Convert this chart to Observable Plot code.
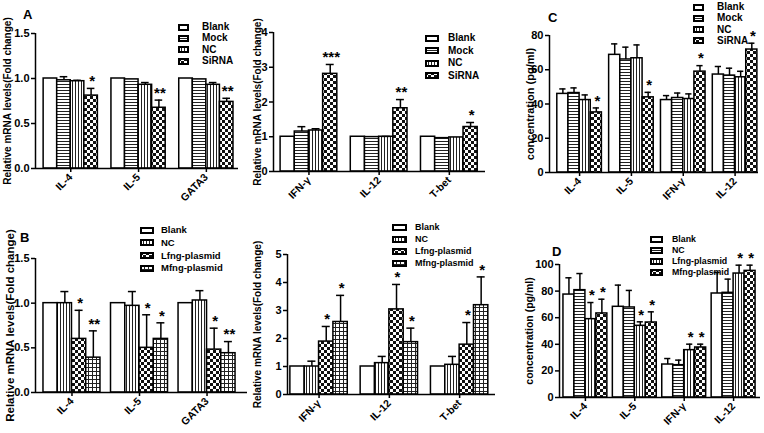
<!DOCTYPE html>
<html><head><meta charset="utf-8">
<script src="https://cdn.jsdelivr.net/npm/d3@7"></script>
<script src="https://cdn.jsdelivr.net/npm/@observablehq/plot@0.6"></script>
<style>
body{margin:0;background:#fff}
#root{position:relative;width:764px;height:433px;overflow:hidden;background:#fff;font-family:"Liberation Sans",Arial,sans-serif;font-weight:bold;color:#000}
.letter{position:absolute;font-size:13px;line-height:1;font-weight:bold}
.lrow{position:absolute;display:flex;align-items:center;white-space:nowrap;height:12px;font-weight:bold;line-height:1}
.lrow svg{flex:none}
</style></head>
<body><div id="root">
<svg width="0" height="0" style="position:absolute"><defs>
 <pattern id="pH" width="4" height="3" patternUnits="userSpaceOnUse"><rect width="4" height="3" fill="#fff"/><rect y="0" width="4" height="1" fill="#222"/></pattern>
 <pattern id="pV" width="3" height="4" patternUnits="userSpaceOnUse"><rect width="3" height="4" fill="#fff"/><rect x="0" width="1" height="4" fill="#222"/></pattern>
 <pattern id="pC" width="6" height="6" patternUnits="userSpaceOnUse"><rect width="6" height="6" fill="#fff"/><rect width="3" height="3" fill="#111"/><rect x="3" y="3" width="3" height="3" fill="#111"/></pattern>
 <pattern id="pG" width="4" height="4" patternUnits="userSpaceOnUse"><rect width="4" height="4" fill="#fff"/><rect width="4" height="1" fill="#222"/><rect width="1" height="4" fill="#222"/></pattern>
</defs></svg>
</div>
<script>
// ---------- data ----------
const seriesA = ["Blank", "Mock", "NC", "SiRNA"];
const seriesB = ["Blank", "NC", "Lfng-plasmid", "Mfng-plasmid"];

// Panel A (left): Th2 genes
const catsA1 = ["IL-4", "IL-5", "GATA3"];
const meanA1 = [[1.0, 0.98, 0.97, 0.81], [1.0, 0.99, 0.93, 0.675], [1.0, 0.99, 0.93, 0.74]];
const hiA1   = [[1.0, 1.02, 0.98, 0.89], [1.0, 0.99, 0.955, 0.76], [1.0, 0.99, 0.955, 0.78]];
const sigA1  = [["", "", "", "*"], ["", "", "", "**"], ["", "", "", "**"]];

// Panel A (right): Th1 genes
const catsA2 = ["IFN-γ", "IL-12", "T-bet"];
const meanA2 = [[1.0, 1.15, 1.18, 2.81], [1.0, 0.99, 1.0, 1.82], [1.0, 0.96, 0.98, 1.28]];
const hiA2   = [[1.0, 1.29, 1.23, 3.08], [1.0, 0.99, 1.01, 2.07], [1.0, 0.96, 0.98, 1.41]];
const sigA2  = [["", "", "", "***"], ["", "", "", "**"], ["", "", "", "*"]];

// Panel C: cytokines (pg/ml)
const catsC = ["IL-4", "IL-5", "IFN-γ", "IL-12"];
const meanC = [[45.9, 46.4, 42.3, 35.1], [68.7, 66.0, 66.7, 43.9], [42.3, 43.5, 42.9, 58.9], [57.2, 56.6, 55.6, 71.8]];
const hiC   = [[48.8, 49.4, 45.3, 37.7], [75.1, 73.2, 74.5, 46.8], [44.9, 46.4, 45.9, 62.4], [61.9, 60.9, 59.1, 75.5]];
const sigC  = [["", "", "", "*"], ["", "", "", "*"], ["", "", "", "*"], ["", "", "", "*"]];

// Panel B (left)
const catsB1 = ["IL-4", "IL-5", "GATA3"];
const meanB1 = [[1.0, 1.0, 0.60, 0.39], [1.0, 0.97, 0.50, 0.60], [1.0, 1.03, 0.48, 0.44]];
const hiB1   = [[1.0, 1.13, 0.92, 0.69], [1.0, 1.13, 0.87, 0.78], [1.0, 1.14, 0.72, 0.57]];
const sigB1  = [["", "", "*", "**"], ["", "", "*", "*"], ["", "", "*", "**"]];

// Panel B (right)
const catsB2 = ["IFN-γ", "IL-12", "T-bet"];
const meanB2 = [[1.0, 1.0, 1.89, 2.59], [1.0, 1.12, 3.04, 1.87], [1.0, 1.06, 1.78, 3.19]];
const hiB2   = [[1.0, 1.19, 2.43, 3.54], [1.0, 1.36, 3.93, 2.37], [1.0, 1.36, 2.57, 4.2]];
const sigB2  = [["", "", "*", "*"], ["", "", "*", "*"], ["", "", "*", "*"]];

// Panel D: cytokines (pg/ml)
const catsD = ["IL-4", "IL-5", "IFN-γ", "IL-12"];
const meanD = [[77.4, 80.7, 58.9, 63.2], [68.2, 67.7, 53.9, 56.4], [24.8, 24.3, 35.6, 37.6], [78.2, 78.7, 93.2, 95.2]];
const hiD   = [[90.0, 93.2, 71.4, 73.9], [84.5, 80.5, 56.9, 64.4], [29.3, 28.1, 40.1, 40.1], [94.0, 89.0, 99.5, 99.5]];
const sigD  = [["", "", "*", "*"], ["", "", "*", "*"], ["", "", "*", "*"], ["", "", "*", "*"]];

const ticks15 = [0, 0.5, 1.0, 1.5];
const ticks4 = [0, 1, 2, 3, 4];
const ticks5 = [0, 1, 2, 3, 4, 5];
const ticks80 = [0, 20, 40, 60, 80];
const ticks100 = [0, 20, 40, 60, 80, 100];

// ---------- styles ----------
const fillsA = ["#fff", "url(#pH)", "url(#pV)", "url(#pC)"];
const fillsB = ["#fff", "url(#pV)", "url(#pC)", "url(#pG)"];
const fillsD = ["#fff", "url(#pH)", "url(#pV)", "url(#pC)"];
const FONT = "'Liberation Sans', Arial, sans-serif";
const root = document.getElementById("root");

function panel(o) {
  const n = o.series.length;
  const rows = [];
  o.cats.forEach((c, g) => o.series.forEach((s, i) => rows.push({
    cat: c, series: s, x1: g * (n + o.gap) + i, x2: g * (n + o.gap) + i + 1,
    mean: o.means[g][i], hi: o.his[g][i], sig: o.sigs[g][i]
  })));
  const mid = d => (d.x1 + d.x2) / 2;
  const centers = o.cats.map((c, g) => g * (n + o.gap) + n / 2);
  const catAt = new Map(centers.map((c, g) => [c, o.cats[g]]));
  const xmin = -o.padL, xmax = (o.cats.length - 1) * (n + o.gap) + n + o.padR;
  const errs = rows.filter(d => d.hi > d.mean);
  const stars = rows.filter(d => d.sig);
  const svg = Plot.plot({
    width: o.width, height: o.height,
    marginLeft: o.m[0], marginRight: o.m[1], marginTop: o.m[2], marginBottom: o.m[3],
    style: {fontFamily: FONT, fontWeight: "bold", fontSize: "10px", overflow: "visible", background: "transparent", color: "#000"},
    x: {domain: [xmin, xmax], axis: null},
    y: {domain: o.yDomain, axis: null},
    color: {type: "ordinal", domain: o.series, range: o.fills},
    marks: [
      Plot.rect(rows, {x1: "x1", x2: "x2", y1: 0, y2: "mean", fill: "series", stroke: "#000", strokeWidth: 1.5}),
      Plot.ruleX(errs, {x: mid, y1: "mean", y2: "hi", stroke: "#000", strokeWidth: 1.5}),
      Plot.ruleY(errs, {y: "hi", x1: d => mid(d) - 0.28, x2: d => mid(d) + 0.28, stroke: "#000", strokeWidth: 1.5}),
      Plot.text(stars, {x: mid, y: "hi", text: "sig", fontSize: 15, dy: -7, dx: 1, fill: "#000"}),
      Plot.ruleY([o.yDomain[0]], {stroke: "#000", strokeWidth: 1.5}),
      Plot.ruleX([xmin], {y1: o.yDomain[0], y2: o.yDomain[1], stroke: "#000", strokeWidth: 1.5}),
      Plot.axisY({ticks: o.yTicks, tickFormat: o.yFormat, tickSize: 4, tickPadding: 2, label: null, fontSize: 11, strokeWidth: 1.5}),
      Plot.axisY({ticks: [], label: o.yLabel, labelAnchor: "center", labelArrow: "none", labelOffset: o.labelOffset, fontSize: o.labelSize}),
      Plot.axisX({ticks: centers, tickFormat: d => catAt.get(d), tickRotate: -45, tickSize: 4, tickPadding: 3, label: null, fontSize: 10.5, strokeWidth: 1.5})
    ]
  });
  svg.style.position = "absolute";
  svg.style.left = o.left + "px";
  svg.style.top = o.top + "px";
  root.appendChild(svg);
}

function legend(labels, fills, o) {
  labels.forEach((lab, i) => {
    const row = document.createElement("div");
    row.className = "lrow";
    row.style.left = o.x + "px";
    row.style.top = (o.y0 + i * o.step - 6) + "px";
    row.style.fontSize = o.fs + "px";
    row.innerHTML = `<svg width="${o.sw}" height="${o.sh}"><rect x="1" y="1" width="${o.sw - 2}" height="${o.sh - 2}" fill="${fills[i]}" stroke="#000" stroke-width="2"/></svg><span style="margin-left:${o.tx - o.x - o.sw}px">${lab}</span>`;
    root.appendChild(row);
  });
}

function letter(t, x, y) {
  const d = document.createElement("div");
  d.className = "letter"; d.textContent = t;
  d.style.left = x + "px"; d.style.top = y + "px";
  root.appendChild(d);
}

const f1 = d3.format(".1f"), f0 = d3.format("d");
const relLabel = "Relative mRNA levels(Fold change)";
const concLabel = "concentration (pg/ml)";

panel({cats: catsA1, series: seriesA, means: meanA1, his: hiA1, sigs: sigA1, fills: fillsA,
  yDomain: [0, 1.5], yTicks: ticks15, yFormat: f1, yLabel: relLabel, labelSize: 10, labelOffset: 32,
  left: 0, top: 0, width: 255, height: 215, m: [35, 17, 33, 47], padL: 0.6, gap: 1.0, padR: 0.37});
panel({cats: catsA2, series: seriesA, means: meanA2, his: hiA2, sigs: sigA2, fills: fillsA,
  yDomain: [0, 4], yTicks: ticks4, yFormat: f0, yLabel: relLabel, labelSize: 10, labelOffset: 20,
  left: 240, top: 0, width: 270, height: 215, m: [33, 25, 32, 44], padL: 0.5, gap: 0.95, padR: 0.55});
panel({cats: catsC, series: seriesA, means: meanC, his: hiC, sigs: sigC, fills: fillsA,
  yDomain: [0, 80], yTicks: ticks80, yFormat: f0, yLabel: concLabel, labelSize: 11, labelOffset: 23,
  left: 510, top: 0, width: 254, height: 215, m: [39, 6, 35, 43], padL: 0.7, gap: 0.65, padR: 0.1});
panel({cats: catsB1, series: seriesB, means: meanB1, his: hiB1, sigs: sigB1, fills: fillsB,
  yDomain: [0, 1.5], yTicks: ticks15, yFormat: f1, yLabel: relLabel, labelSize: 11.5, labelOffset: 30,
  left: 0, top: 215, width: 255, height: 218, m: [35, 8, 43, 41], padL: 0.56, gap: 0.74, padR: 0.84});
panel({cats: catsB2, series: seriesB, means: meanB2, his: hiB2, sigs: sigB2, fills: fillsB,
  yDomain: [0, 5], yTicks: ticks5, yFormat: f0, yLabel: relLabel, labelSize: 10, labelOffset: 34,
  left: 255, top: 215, width: 255, height: 218, m: [32, 15, 39, 39], padL: 0.2, gap: 0.9, padR: 0.5});
panel({cats: catsD, series: seriesB, means: meanD, his: hiD, sigs: sigD, fills: fillsD,
  yDomain: [0, 100], yTicks: ticks100, yFormat: f0, yLabel: concLabel, labelSize: 10.5, labelOffset: 34,
  left: 510, top: 215, width: 254, height: 218, m: [49, 4, 49, 36], padL: 0.36, gap: 0.5, padR: 0.45});

legend(seriesA, fillsA, {x: 178, tx: 202, y0: 27, step: 11.4, sw: 11, sh: 7, fs: 10});
legend(seriesA, fillsA, {x: 425, tx: 448, y0: 38, step: 12.6, sw: 14, sh: 7, fs: 10});
legend(seriesA, fillsA, {x: 693, tx: 717, y0: 7, step: 11.3, sw: 11, sh: 7, fs: 10});
legend(seriesB, fillsB, {x: 140, tx: 161, y0: 230, step: 12.7, sw: 14, sh: 7, fs: 9.5});
legend(seriesB, fillsB, {x: 392, tx: 415, y0: 227, step: 12, sw: 15, sh: 7, fs: 9});
legend(seriesB, fillsD, {x: 650, tx: 672, y0: 239, step: 11, sw: 13, sh: 7, fs: 8.8});

letter("A", 23, 8);
letter("B", 20, 231);
letter("C", 548, 11);
letter("D", 552, 245);
</script>
</body></html>
